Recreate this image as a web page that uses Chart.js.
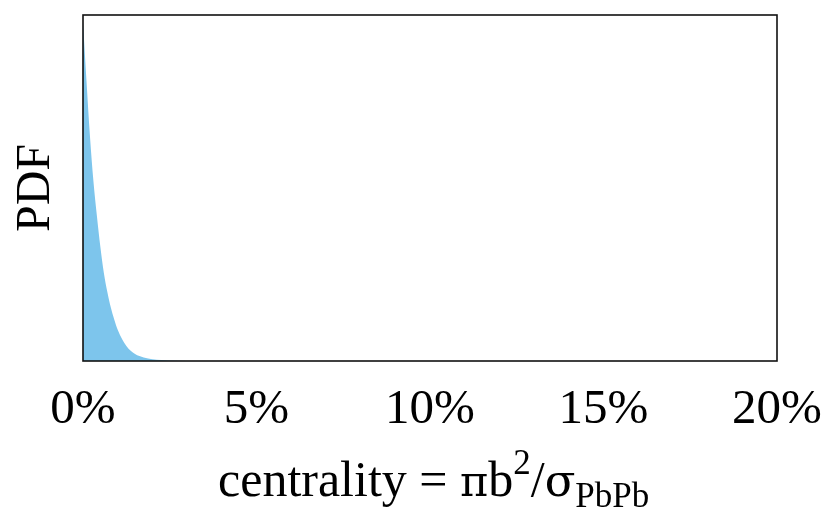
<!DOCTYPE html>
<html>
<head>
<meta charset="utf-8">
<script src="https://cdn.jsdelivr.net/npm/chart.js@4.4.0/dist/chart.umd.min.js"></script>
<style>
  html, body { margin: 0; padding: 0; background: #ffffff; }
  #wrap { width: 825px; height: 513px; }
</style>
</head>
<body>
<div id="wrap"><canvas id="c" width="825" height="513"></canvas></div>
<script>
// centrality (%) sample positions
const centrality = [0, 0.1, 0.2, 0.3, 0.4, 0.5, 0.6, 0.7, 0.8, 0.9, 1.0, 1.25, 1.5, 1.75, 2.0, 2.25, 2.5, 3.0, 20];
// normalized PDF values
const pdf = [0.98, 0.81, 0.65, 0.52, 0.42, 0.33, 0.255, 0.2, 0.155, 0.12, 0.09, 0.043, 0.02, 0.01, 0.005, 0.003, 0.0015, 0, 0];
const xTicks = [0, 5, 10, 15, 20];
const yLabel = 'PDF';
const fillColor = 'rgb(125,197,236)';

const points = centrality.map((x, i) => ({ x: x, y: pdf[i] }));

const serif = '"Liberation Serif", "Times New Roman", serif';
const greek = '"DejaVu Serif", serif';

const frame = {
  id: 'frame',
  afterDatasetsDraw(chart) {
    const { ctx, chartArea: a } = chart;
    ctx.save();
    ctx.strokeStyle = '#111';
    ctx.lineWidth = 1.6;
    ctx.strokeRect(a.left, a.top, a.right - a.left, a.bottom - a.top);
    ctx.restore();
  },
  afterDraw(chart) {
    const ctx = chart.ctx;
    const big = 50, small = 35;
    const segs = [
      { t: 'centrality = ', f: serif, s: big, dy: 0 },
      { t: '\u03c0', f: greek, s: 43, dy: 0 },
      { t: 'b', f: serif, s: big, dy: 0 },
      { t: '2', f: serif, s: small, dy: -22 },
      { t: '/', f: serif, s: big, dy: 0 },
      { t: '\u03c3', f: greek, s: 45, dy: 0 },
      { t: 'PbPb', f: serif, s: small, dy: 11 }
    ];
    ctx.save();
    ctx.fillStyle = '#000';
    ctx.textBaseline = 'alphabetic';
    ctx.textAlign = 'left';
    segs.forEach(g => { ctx.font = g.s + 'px ' + g.f; g.w = ctx.measureText(g.t).width; });
    let x = 218;
    const base = 496;
    segs.forEach(g => {
      ctx.font = g.s + 'px ' + g.f;
      ctx.fillText(g.t, x, base + g.dy);
      x += g.w;
    });
    ctx.restore();
  }
};

new Chart(document.getElementById('c'), {
  type: 'line',
  data: {
    datasets: [{
      data: points,
      fill: 'origin',
      backgroundColor: fillColor,
      borderColor: fillColor,
      borderWidth: 0,
      pointRadius: 0,
      tension: 0.3,
      cubicInterpolationMode: 'monotone'
    }]
  },
  options: {
    responsive: false,
    animation: false,
    layout: { padding: { top: 15, right: 48, left: 0, bottom: 0 } },
    plugins: { legend: { display: false }, tooltip: { enabled: false } },
    scales: {
      x: {
        type: 'linear',
        min: 0,
        max: 20,
        afterFit(s) { s.height = 152; s.paddingLeft = 0; s.paddingRight = 0; },
        afterBuildTicks(s) { s.ticks = xTicks.map(v => ({ value: v })); },
        grid: { display: false, drawTicks: false },
        border: { display: false },
        ticks: {
          padding: 20,
          color: '#000',
          maxRotation: 0,
          font: { family: serif, size: 49 },
          callback: v => v + '%'
        }
      },
      y: {
        type: 'linear',
        min: 0,
        max: 1,
        afterFit(s) { s.width = 83; },
        grid: { display: false, drawTicks: false },
        border: { display: false },
        ticks: { display: false },
        title: {
          display: true,
          text: yLabel,
          color: '#000',
          padding: { top: 8, bottom: 0 },
          font: { family: serif, size: 48 }
        }
      }
    }
  },
  plugins: [frame]
});
</script>
</body>
</html>
